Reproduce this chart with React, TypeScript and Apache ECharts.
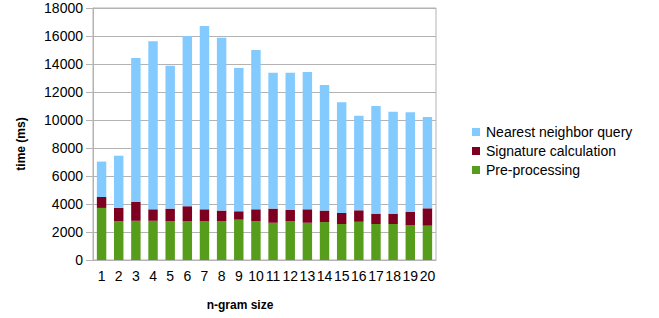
import React, { useEffect, useRef } from "react";
import * as echarts from "echarts";

const categories = ["1","2","3","4","5","6","7","8","9","10","11","12","13","14","15","16","17","18","19","20"];
const preProcessing = [3720,2760,2800,2800,2760,2760,2760,2760,2880,2760,2660,2760,2660,2710,2570,2730,2570,2570,2470,2450];
const signatureCalc = [780,960,1350,820,910,1080,860,770,600,860,1010,810,960,820,790,820,740,740,960,1240];
const nearestNeighbor = [2530,3730,10280,12000,10210,12160,13090,12350,10230,11380,9710,9810,9810,8970,7900,6760,7690,7280,7120,6520];
const seriesNames = ["Nearest neighbor query", "Signature calculation", "Pre-processing"];

const FONT = "Liberation Sans, Arial, sans-serif";
const GRID = "#b3b3b3";

export default function App() {
  const ref = useRef<HTMLDivElement>(null);
  useEffect(() => {
    const chart = echarts.init(ref.current!, null, { renderer: "svg" });
    chart.setOption({
      animation: false,
      backgroundColor: "#fff",
      textStyle: { fontFamily: FONT },
      grid: { left: 93, right: 223, top: 8, bottom: 58, show: true, borderColor: GRID, borderWidth: 1 },
      legend: {
        orient: "vertical",
        left: 467,
        top: 120,
        itemWidth: 8,
        itemHeight: 8,
        itemGap: 5,
        icon: "rect",
        data: seriesNames,
        textStyle: { fontSize: 14, color: "#000", fontFamily: FONT, padding: [0, 0, 0, 1] },
      },
      xAxis: {
        type: "category",
        data: categories,
        axisLine: { lineStyle: { color: GRID } },
        axisTick: { length: 5, lineStyle: { color: GRID } },
        axisLabel: { fontSize: 14, color: "#000", margin: 9, interval: 0, fontFamily: FONT },
      },
      yAxis: {
        type: "value",
        min: 0,
        max: 18000,
        interval: 2000,
        axisLine: { show: true, lineStyle: { color: GRID } },
        axisTick: { show: true, length: 7, lineStyle: { color: GRID } },
        splitLine: { lineStyle: { color: GRID } },
        axisLabel: { fontSize: 14, color: "#000", margin: 10, fontFamily: FONT, formatter: (v: number) => String(v) },
      },
      graphic: [
        {
          type: "text",
          x: 21,
          y: 144,
          rotation: Math.PI / 2,
          style: { text: "time (ms)", fontSize: 12, fontWeight: "bold", fill: "#000", align: "center", verticalAlign: "middle", fontFamily: FONT },
        },
        {
          type: "text",
          x: 240,
          y: 305,
          style: { text: "n-gram size", fontSize: 12, fontWeight: "bold", fill: "#000", align: "center", verticalAlign: "middle", fontFamily: FONT },
        },
      ],
      series: [
        { name: "Pre-processing", type: "bar", stack: "t", data: preProcessing, barWidth: "55%", itemStyle: { color: "#579D1C" } },
        { name: "Signature calculation", type: "bar", stack: "t", data: signatureCalc, barWidth: "55%", itemStyle: { color: "#7E0021" } },
        { name: "Nearest neighbor query", type: "bar", stack: "t", data: nearestNeighbor, barWidth: "55%", itemStyle: { color: "#83CAFF" } },
      ],
    });
    return () => chart.dispose();
  }, []);
  return <div ref={ref} style={{ position: "fixed", left: 0, top: 0, width: 659, height: 318 }} />;
}
